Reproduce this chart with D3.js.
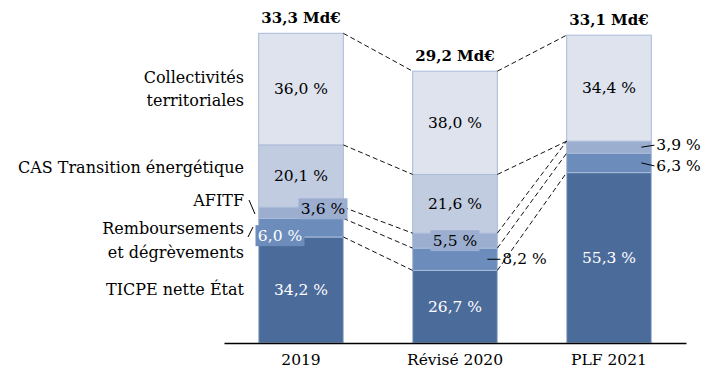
<!DOCTYPE html>
<html><head><meta charset="utf-8">
<script src="https://cdn.jsdelivr.net/npm/d3@7"></script>
<style>
html,body{margin:0;padding:0;background:#fff;}
svg{display:block;font-family:"DejaVu Serif",serif;}
</style></head>
<body><svg id="c" width="712" height="383"></svg>
<script>
// ---- data ----
const categories = ["2019", "Révisé 2020", "PLF 2021"];
const totals = [33.3, 29.2, 33.1];
const totalLabels = ["33,3 Md€", "29,2 Md€", "33,1 Md€"];
const seriesNames = ["TICPE nette État", "Remboursements et dégrèvements", "AFITF", "CAS Transition énergétique", "Collectivités territoriales"];
const ticpe = [34.2, 26.7, 55.3];
const rembourse = [6.0, 8.2, 6.3];
const afitf = [3.6, 5.5, 3.9];
const casTE = [20.1, 21.6, 0];
const collectivites = [36.0, 38.0, 34.4];
const seriesValues = [ticpe, rembourse, afitf, casTE, collectivites];
const colors = ["#4b6b9b", "#6c8cbb", "#9caed0", "#c2cce0", "#dee3ee"];

const svg = d3.select("#c");
const fmt = v => d3.format(".1f")(v).replace(".", ",") + " %";

const x = d3.scaleBand().domain(categories).range([224, 686]).paddingInner(0.45).paddingOuter(0.225);
const y = d3.scaleLinear().domain([0, 33.3]).range([343, 33]);
const bw = x.bandwidth();

// stacked segments (in Md€)
const segs = [];
categories.forEach((c, i) => {
  let cum = 0;
  seriesValues.forEach((vals, k) => {
    const v = vals[i];
    const y0 = totals[i] * cum / 100;
    cum += v;
    const y1 = totals[i] * cum / 100;
    segs.push({c, i, k, v, y0, y1});
  });
});
const seg = (i, k) => segs.find(s => s.i === i && s.k === k);

// bars
svg.append("g").selectAll("rect").data(segs.filter(s => s.v > 0)).join("rect")
  .attr("x", d => x(d.c)).attr("width", bw)
  .attr("y", d => y(d.y1)).attr("height", d => y(d.y0) - y(d.y1))
  .attr("fill", d => colors[d.k]).attr("stroke", "#a9bbd8").attr("stroke-width", 1);

// dashed connectors
const conn = svg.append("g").attr("stroke", "#111").attr("stroke-width", 1).attr("stroke-dasharray", "5,3").attr("fill", "none");
for (let i = 0; i < categories.length - 1; i++) {
  for (let k = 0; k < seriesNames.length; k++) {
    const a = seg(i, k), b = seg(i + 1, k);
    conn.append("line")
      .attr("x1", x(categories[i]) + bw).attr("y1", y(a.y1))
      .attr("x2", x(categories[i + 1])).attr("y2", y(b.y1));
  }
}

// axis
const ax = svg.append("g").attr("transform", "translate(0,343)")
  .call(d3.axisBottom(x).tickSize(0).tickPadding(11));
ax.select(".domain").attr("stroke", "#000").attr("stroke-width", 1.3);
ax.selectAll("text").attr("font-family", "DejaVu Serif").attr("font-size", 15.5).attr("fill", "#000");

// totals
svg.append("g").selectAll("text").data(categories).join("text")
  .attr("x", d => x(d) + bw / 2).attr("y", (d, i) => y(totals[i]) - 10)
  .attr("text-anchor", "middle").attr("font-weight", "bold").attr("font-size", 15)
  .text((d, i) => totalLabels[i]);

// value labels
const lab = svg.append("g").attr("font-size", 15.5);
const boxes = {"0-2": [22, -4], "0-1": [-21, 8], "1-2": [0, 0]}; // offsets for boxed labels
const outside = {"1-1": true, "2-1": true, "2-2": true};
segs.filter(s => s.v > 0).forEach(s => {
  const key = s.i + "-" + s.k;
  let cx = x(s.c) + bw / 2, cy = (y(s.y0) + y(s.y1)) / 2;
  const txtColor = (s.k <= 1) ? "#fff" : "#000";
  if (outside[key]) {
    const lx = x(s.c) + bw;
    let ty = cy;
    if (key === "2-2") ty = cy - 2;
    if (key === "2-1") ty = cy + 3;
    lab.append("line").attr("x1", lx - 10).attr("y1", cy).attr("x2", lx + 3).attr("y2", ty)
      .attr("stroke", "#000").attr("stroke-width", 1);
    lab.append("text").attr("x", lx + 5).attr("y", ty).attr("dominant-baseline", "central")
      .attr("fill", "#000").text(fmt(s.v));
    return;
  }
  if (boxes[key]) {
    const [dx, dy] = boxes[key];
    cx += dx; cy += dy;
    lab.append("rect").attr("x", cx - 24.5).attr("y", cy - 10.5).attr("width", 49).attr("height", 21)
      .attr("fill", colors[s.k]);
  }
  lab.append("text").attr("x", cx).attr("y", cy).attr("text-anchor", "middle")
    .attr("dominant-baseline", "central").attr("fill", txtColor).text(fmt(s.v));
});

// left category labels
const left = svg.append("g").attr("font-size", 16).attr("text-anchor", "end");
const leftLines = [
  [seriesNames[4], ["Collectivités", "territoriales"], [77, 100]],
  [seriesNames[3], ["CAS Transition énergétique"], [167]],
  [seriesNames[2], ["AFITF"], [200]],
  [seriesNames[1], ["Remboursements", "et dégrèvements"], [228, 252]],
  [seriesNames[0], ["TICPE nette État"], [289]]
];
leftLines.forEach(([name, lines, ys]) => {
  lines.forEach((t, j) => left.append("text").attr("x", 244).attr("y", ys[j])
    .attr("dominant-baseline", "central").text(t));
});
left.append("line").attr("x1", 249).attr("y1", 200).attr("x2", 255).attr("y2", 214).attr("stroke", "#000");
left.append("line").attr("x1", 248).attr("y1", 237).attr("x2", 253).attr("y2", 227).attr("stroke", "#000");
</script></body></html>
